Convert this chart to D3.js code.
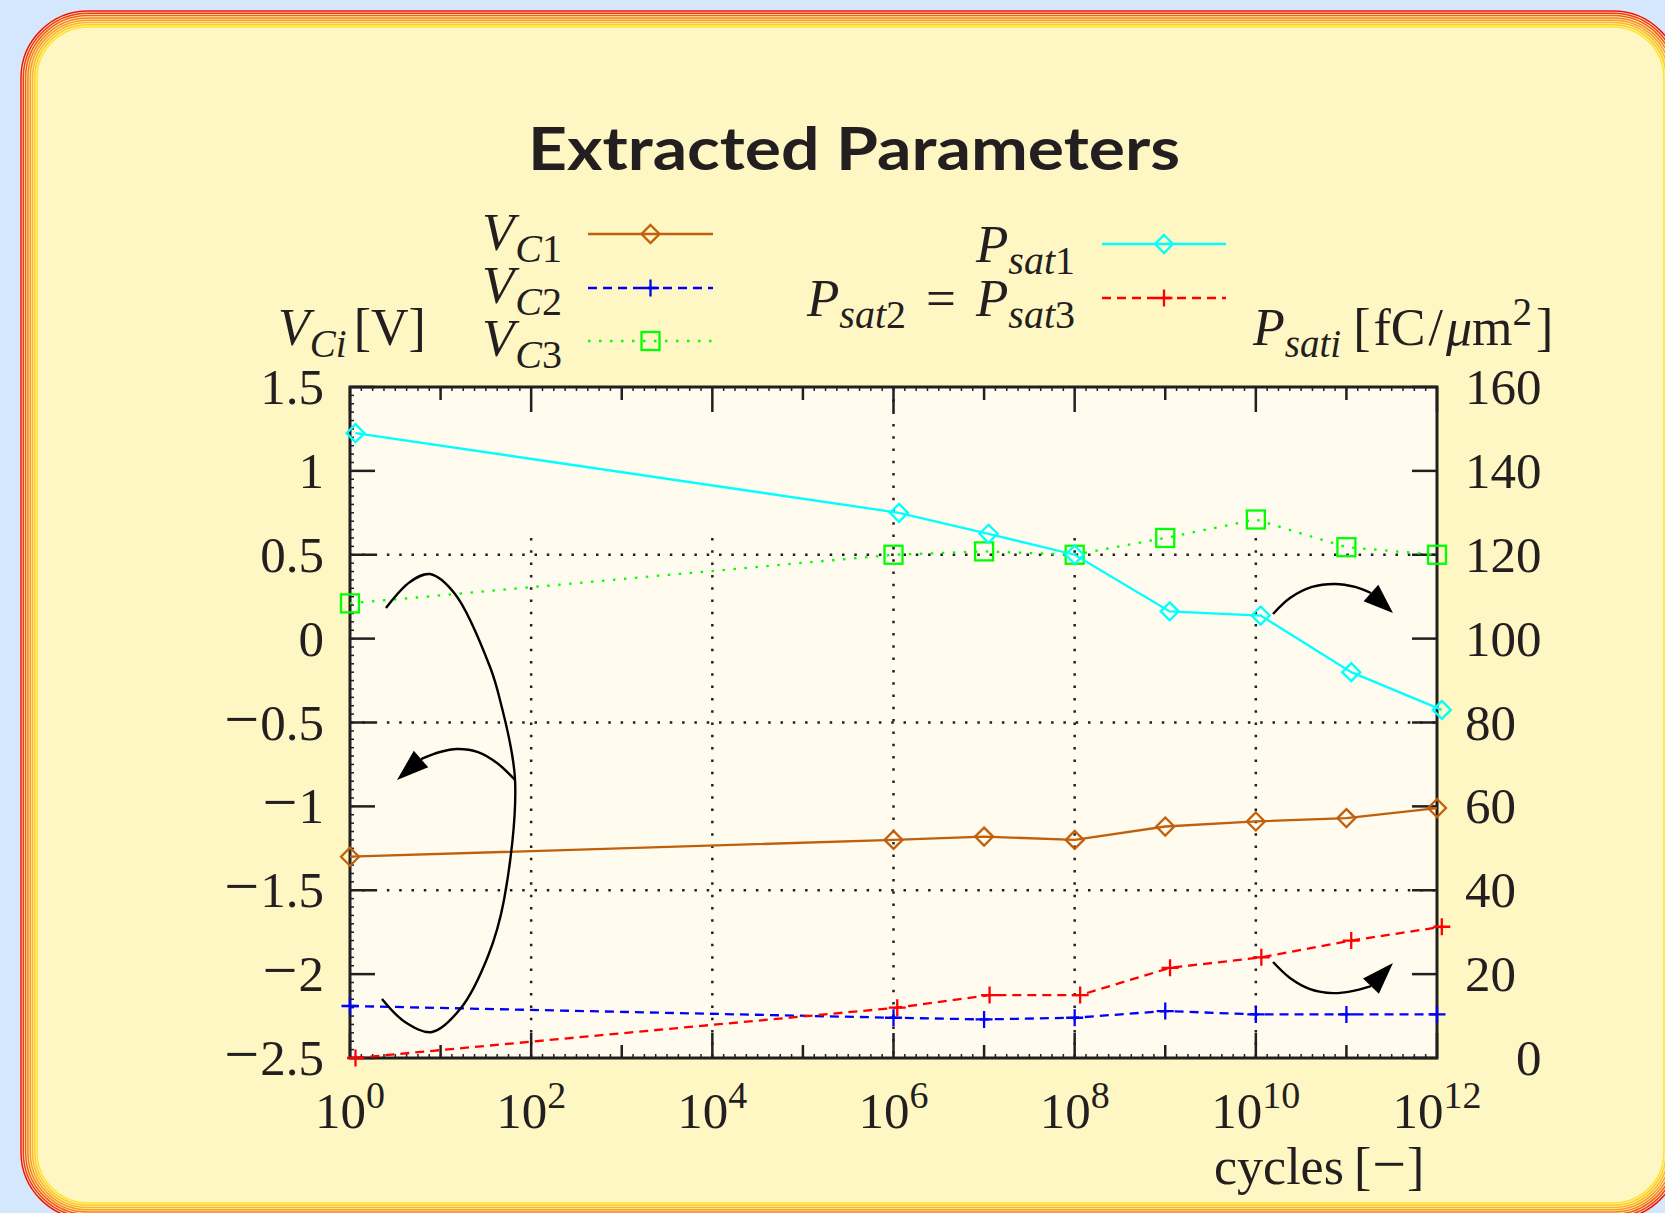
<!DOCTYPE html>
<html>
<head>
<meta charset="utf-8">
<script src="https://cdn.jsdelivr.net/npm/d3@7"></script>
<style>
  body { margin: 0; background: #d5e7fd; }
  svg { display: block; }
</style>
</head>
<body>
<div id="chart"></div>
<script>
const W = 1665, H = 1213;

// ---- data ----
const cycles = [1, 1e6, 1e7, 1e8, 1e9, 1e10, 1e11, 1e12];
const vc1 = [-1.30, -1.20, -1.18, -1.20, -1.12, -1.09, -1.07, -1.01];
const vc2 = [-2.19, -2.26, -2.27, -2.26, -2.22, -2.24, -2.24, -2.24];
const vc3 = [0.21, 0.50, 0.52, 0.50, 0.60, 0.71, 0.545, 0.50];
// the P curves are plotted slightly to the right of the decades
const psat1Cycles = [1.15, 1.15e6, 1.12e7, 1e8, 1.12e9, 1.13e10, 1.13e11, 1.13e12];
const psat1 = [149, 130, 125, 120, 106.5, 105.5, 92, 83];
const psat2Cycles = [1.15, 1.1e6, 1.15e7, 1.15e8, 1.13e9, 1.15e10, 1.13e11, 1.13e12];
const psat2 = [0, 12, 15, 15, 21.5, 24, 28, 31.3];

const xTickExps = [0, 2, 4, 6, 8, 10, 12];
const xMidExps = [1, 3, 5, 7, 9, 11];
const yTicks = [-2.5, -2, -1.5, -1, -0.5, 0, 0.5, 1, 1.5];
const y2Ticks = [0, 20, 40, 60, 80, 100, 120, 140, 160];
const xGridExps = [2, 4, 6, 8, 10];
const y2Grid = [40, 80, 120];

// hand-drawn arrows, in [log10(cycles), V] coordinates
const bigCurve = [[0.397,0.183],[0.662,0.338],[0.883,0.385],[1.159,0.266],[1.546,-0.169],
  [1.656,-0.366],[1.822,-0.843],[1.700,-1.558],[1.524,-1.892],[1.225,-2.202],
  [0.905,-2.345],[0.607,-2.285],[0.353,-2.148]];
const arrows = [
  { pts: [[1.822,-0.843],[1.623,-0.741],[1.413,-0.676],[1.181,-0.658],[0.994,-0.676],[0.784,-0.718]], tip: [0.519,-0.843] },
  { pts: [[10.19,0.147],[10.377,0.242],[10.62,0.308],[10.874,0.326],[11.095,0.308],[11.271,0.272]], tip: [11.514,0.153] },
  { pts: [[10.19,-1.928],[10.377,-2.023],[10.598,-2.089],[10.852,-2.113],[11.062,-2.101],[11.271,-2.071]], tip: [11.514,-1.934] }
];

// ---- scales ----
const x = d3.scaleLog().domain([1, 1e12]).range([350, 1437]);
const y = d3.scaleLinear().domain([-2.5, 1.5]).range([1058, 387]);
const y2 = d3.scaleLinear().domain([0, 160]).range([1058, 387]);
const ink = "#231f20";
const serif = "'Liberation Serif', 'DejaVu Serif', serif";

const svg = d3.select("#chart").append("svg").attr("width", W).attr("height", H);

// ---- background frame ----
svg.append("rect").attr("width", W).attr("height", H).attr("fill", "#d5e7fd");
const fx = 20, fy = 10, fw = 1661, fh = 1210, fr = 68;
svg.append("rect").attr("x", fx).attr("y", fy).attr("width", fw).attr("height", fh)
  .attr("rx", fr).attr("fill", "#fff2b4");
const band = d3.interpolateRgbBasis(["#e8141c", "#f4701e", "#fbb02a", "#ffe52c"]);
for (let i = 0; i < 8; i++) {
  const s = 1 + i * 2.3;
  svg.append("rect").attr("x", fx + s).attr("y", fy + s)
    .attr("width", fw - 2 * s).attr("height", fh - 2 * s)
    .attr("rx", fr - s).attr("fill", "none")
    .attr("stroke", band(i / 7)).attr("stroke-width", 1.5);
}
svg.append("rect").attr("x", fx + 18).attr("y", fy + 18)
  .attr("width", fw - 36).attr("height", fh - 36).attr("rx", fr - 18)
  .attr("fill", "#fff7c3");

// title
svg.append("text").attr("x", 854).attr("y", 170).attr("text-anchor", "middle")
  .attr("textLength", 652).attr("lengthAdjust", "spacingAndGlyphs")
  .style("font-family", "Lato, 'DejaVu Sans', sans-serif").style("font-weight", "bold")
  .style("font-size", "60px").attr("fill", ink).text("Extracted Parameters");

// plot area
svg.append("rect").attr("x", x(1)).attr("y", y(1.5))
  .attr("width", x(1e12) - x(1)).attr("height", y(-2.5) - y(1.5)).attr("fill", "#fffbee");

// ---- grid ----
const grid = svg.append("g").attr("stroke", ink).attr("stroke-width", 2.5)
  .attr("stroke-dasharray", "2.5,9.8");
grid.selectAll("line.v").data(xGridExps).join("line")
  .attr("x1", e => x(10 ** e)).attr("x2", e => x(10 ** e))
  .attr("y1", e => y(e === 6 ? 1.5 : 0.6)).attr("y2", y(-2.5));
grid.selectAll("line.h").data(y2Grid).join("line")
  .attr("x1", x(1)).attr("x2", x(1e12))
  .attr("y1", d => y2(d)).attr("y2", d => y2(d));

// ---- ticks and border ----
const ticks = svg.append("g").attr("stroke", ink).attr("stroke-width", 2.5);
const xMinor = d3.range(0, 12.001, 0.125);
const yMinor = d3.range(-2.5, 1.5001, 0.05);
[y(-2.5), y(1.5)].forEach((yy, k) => {
  const dir = k === 0 ? -1 : 1;
  ticks.selectAll(null).data(xTickExps).join("line")
    .attr("x1", e => x(10 ** e)).attr("x2", e => x(10 ** e))
    .attr("y1", yy).attr("y2", yy + dir * 25);
  ticks.selectAll(null).data(xMidExps).join("line")
    .attr("x1", e => x(10 ** e)).attr("x2", e => x(10 ** e))
    .attr("y1", yy).attr("y2", yy + dir * 13);
  ticks.selectAll(null).data(xMinor).join("line").attr("stroke-width", 1.5)
    .attr("x1", e => x(10 ** e)).attr("x2", e => x(10 ** e))
    .attr("y1", yy).attr("y2", yy + dir * 4);
});
ticks.selectAll(null).data(yTicks).join("line")
  .attr("x1", x(1)).attr("x2", x(1) + 25).attr("y1", d => y(d)).attr("y2", d => y(d));
ticks.selectAll(null).data(yMinor).join("line").attr("stroke-width", 1.5)
  .attr("x1", x(1)).attr("x2", x(1) + 4).attr("y1", d => y(d)).attr("y2", d => y(d));
ticks.selectAll(null).data(y2Ticks).join("line")
  .attr("x1", x(1e12)).attr("x2", x(1e12) - 25).attr("y1", d => y2(d)).attr("y2", d => y2(d));
svg.append("rect").attr("x", x(1)).attr("y", y(1.5))
  .attr("width", x(1e12) - x(1)).attr("height", y(-2.5) - y(1.5))
  .attr("fill", "none").attr("stroke", ink).attr("stroke-width", 3);

// ---- math-ish text helper ----
function mathText(px, py, parts, anchor, size) {
  size = size || 52;
  const t = svg.append("text").attr("x", px).attr("y", py)
    .attr("text-anchor", anchor || "start")
    .style("font-family", serif).attr("fill", ink);
  let shift = 0;
  parts.forEach(([s, kind, dx, fs]) => {
    const sub = kind[0] === "s", sup = kind[0] === "u";
    const target = sub ? 12 : sup ? -20 : 0;
    const ts = t.append("tspan").text(s).attr("dy", target - shift)
      .style("font-size", fs ? fs + "px" : (sub || sup) ? Math.round(size * 0.75) + "px" : size + "px")
      .style("font-style", kind.endsWith("i") ? "italic" : "normal");
    if (dx) ts.attr("dx", dx);
    shift = target;
  });
  return t;
}

// tick labels
const yParts = d => d < 0
  ? [["\u2212", "r", 0, 62], [String(Math.abs(d)), "r", 1]]
  : [[String(d), "r"]];
yTicks.forEach(d => mathText(324, y(d) + 17, yParts(d), "end", 51));
y2Ticks.forEach(d => mathText(d === 0 ? 1516 : 1465, y2(d) + 17, [[String(d), "r"]], "start", 51));
xTickExps.forEach(e => mathText(x(10 ** e), 1128, [["10", "r"], [String(e), "ur"]], "middle", 51));

// axis labels
mathText(278, 345, [["V", "i"], ["Ci", "si"], ["[V]", "r", 7]]);
mathText(1253, 345, [["P", "i"], ["sati", "si"], ["[", "r", 12], ["fC", "r", 3], ["/", "r", 3],
  ["\u03bc", "i", 3], ["m", "r"], ["2", "ur"], ["]", "r", 4]]);
mathText(1214, 1184, [["cycles", "r"], ["[", "r", 10], ["\u2212", "r", 1, 60], ["]", "r", 1]]);

// ---- markers ----
function drawMarker(g, kind, cx, cy, color) {
  if (kind === "diamond") {
    g.append("path").attr("d", `M${cx},${cy - 9}L${cx + 9},${cy}L${cx},${cy + 9}L${cx - 9},${cy}Z`)
      .attr("fill", "none").attr("stroke", color).attr("stroke-width", 2.3);
  } else if (kind === "square") {
    g.append("rect").attr("x", cx - 9).attr("y", cy - 9).attr("width", 18).attr("height", 18)
      .attr("fill", "none").attr("stroke", color).attr("stroke-width", 2.3);
  } else {
    g.append("path").attr("d", `M${cx - 8.5},${cy}H${cx + 8.5}M${cx},${cy - 8.5}V${cy + 8.5}`)
      .attr("stroke", color).attr("stroke-width", 2.3);
  }
}

const series = [
  { xs: cycles, ys: vc1, sc: y, color: "#c0600c", dash: null, marker: "diamond" },
  { xs: cycles, ys: vc2, sc: y, color: "#0000ff", dash: "9,6", marker: "cross" },
  { xs: cycles, ys: vc3, sc: y, color: "#00ff00", dash: "2.5,8.5", marker: "square" },
  { xs: psat1Cycles, ys: psat1, sc: y2, color: "#00ffff", dash: null, marker: "diamond" },
  { xs: psat2Cycles, ys: psat2, sc: y2, color: "#ff0000", dash: "9,6", marker: "cross" }
];

const dataG = svg.append("g");
series.forEach(s => {
  const line = d3.line().x((d, i) => x(s.xs[i])).y(d => s.sc(d));
  dataG.append("path").attr("d", line(s.ys)).attr("fill", "none")
    .attr("stroke", s.color).attr("stroke-width", 2.3)
    .attr("stroke-dasharray", s.dash);
  s.ys.forEach((v, i) => drawMarker(dataG, s.marker, x(s.xs[i]), s.sc(v), s.color));
});

// ---- key ----
const keyRows = [
  { s: series[0], x0: 588, x1: 713, yy: 234, label: [["V", "i"], ["C", "si", 1], ["1", "sr"]], tx: 562, ty: 250 },
  { s: series[1], x0: 588, x1: 713, yy: 288, label: [["V", "i"], ["C", "si", 1], ["2", "sr"]], tx: 562, ty: 303 },
  { s: series[2], x0: 588, x1: 713, yy: 341, label: [["V", "i"], ["C", "si", 1], ["3", "sr"]], tx: 562, ty: 356 },
  { s: series[3], x0: 1102, x1: 1226, yy: 244, label: [["P", "i"], ["sat", "si"], ["1", "sr"]], tx: 1075, ty: 262 },
  { s: series[4], x0: 1102, x1: 1226, yy: 298, label: [["P", "i"], ["sat", "si"], ["2", "sr"], ["=", "r", 20], ["P", "i", 20], ["sat", "si"], ["3", "sr"]], tx: 1075, ty: 316 }
];
keyRows.forEach(r => {
  svg.append("line").attr("x1", r.x0).attr("x2", r.x1).attr("y1", r.yy).attr("y2", r.yy)
    .attr("stroke", r.s.color).attr("stroke-width", 2.3).attr("stroke-dasharray", r.s.dash);
  drawMarker(svg, r.s.marker, (r.x0 + r.x1) / 2, r.yy, r.s.color);
  mathText(r.tx, r.ty, r.label, "end", 53);
});

// ---- annotation arrows ----
const ax = d => x(10 ** d[0]), ay = d => y(d[1]);
const curve = d3.line().x(ax).y(ay).curve(d3.curveCatmullRom.alpha(0.5));
const annG = svg.append("g");
annG.append("path").attr("d", curve(bigCurve)).attr("fill", "none")
  .attr("stroke", "#000").attr("stroke-width", 2.4);
arrows.forEach(a => {
  annG.append("path").attr("d", curve(a.pts)).attr("fill", "none")
    .attr("stroke", "#000").attr("stroke-width", 2.4);
  const b = a.pts[a.pts.length - 1];
  const bx = ax(b), by = ay(b), tx = ax(a.tip), ty = ay(a.tip);
  const dx = tx - bx, dy = ty - by, len = Math.hypot(dx, dy);
  const nx = -dy / len * 11, ny = dx / len * 11;
  annG.append("path")
    .attr("d", `M${tx},${ty}L${bx + nx},${by + ny}L${bx - nx},${by - ny}Z`)
    .attr("fill", "#000");
});
</script>
</body>
</html>
